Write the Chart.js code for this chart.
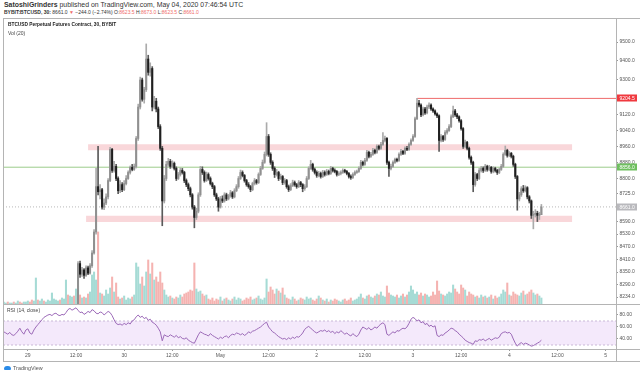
<!DOCTYPE html>
<html>
<head>
<meta charset="utf-8">
<title>BTCUSD 30 - BYBIT</title>
<script src="https://cdn.jsdelivr.net/npm/chart.js@4.4.1/dist/chart.umd.min.js"></script>
<style>
  html, body { margin: 0; padding: 0; background: #fff; }
  body { width: 640px; height: 376px; position: relative; overflow: hidden;
         font-family: "Liberation Sans", Arial, sans-serif; color: #131722; }
  .txt { position: absolute; white-space: nowrap; line-height: 1; }
  .red { color: #ef6c6a; }
  .line { position: absolute; background: #b4b4b4; }
  #mainBox { position: absolute; left: 3px; top: 18px; width: 637px; height: 286px; }
  #rsiBox { position: absolute; left: 3px; top: 304px; width: 637px; height: 58px; }
  .logo { position: absolute; left: 4px; top: 366px; width: 7px; height: 4px; background: #2a8be8; border-radius: 3px 3px 1px 1px; }
</style>
</head>
<body>

<div class="txt" style="left:4px; top:1.5px; font-size:6.9px; color:#333;"><b>SatoshiGrinders</b> published on TradingView.com, May 04, 2020 07:46:54 UTC</div>
<div class="txt" style="left:4px; top:9.5px; font-size:5px; color:#333;"><b>BYBIT:BTCUSD, 30:</b> 8661.0 <span class="red">&#9660;</span> &minus;244.0 (&minus;2.74%) O:<span class="red">8623.5</span> H:<span class="red">8673.0</span> L:<span class="red">8623.5</span> C:<span class="red">8661.0</span></div>

<div id="mainBox"><canvas id="mainChart"></canvas></div>
<div id="rsiBox"><canvas id="rsiChart"></canvas></div>

<!-- pane frame -->
<div class="line" style="left:3px; top:18px; width:637px; height:1px;"></div>
<div class="line" style="left:3px; top:18px; width:1px; height:344px;"></div>
<div class="line" style="left:3px; top:304px; width:637px; height:1px;"></div>
<div class="line" style="left:3px; top:349px; width:637px; height:1px;"></div>
<div class="line" style="left:3px; top:361px; width:637px; height:1px;"></div>
<div class="line" style="left:616px; top:18px; width:1px; height:344px;"></div>

<div class="txt" style="left:8px; top:22.5px; font-size:4.8px; font-weight:bold; color:#222;">BTCUSD Perpetual Futures Contract, 30, BYBIT</div>
<div class="txt" style="left:8px; top:30.5px; font-size:5px; color:#444;">Vol (20)</div>
<div class="txt" style="left:7px; top:308px; font-size:5px; color:#444;">RSI (14, close)</div>

<div class="logo"></div>
<div class="txt" style="left:13px; top:365.5px; font-size:5.4px; color:#555;">TradingView</div>

<script>
// 30-minute bars, time in hours counted from Apr 29 00:00 UTC
const startHour = -6;
const stepHours = 0.5;
const firstOpen = 7740;

// first 37 bars sit below the visible price range, only their volume/RSI show
const closes = [
  7745, 7760, 7752, 7768, 7775, 7770, 7781, 7790, 7785, 7779, 7792, 7800,
  7810, 7805, 7798, 7812, 7825, 7820, 7835, 7850, 7845, 7860, 7880, 7885,
  7900, 7920, 7950, 7985, 7970, 8010, 8030, 8070, 8060, 8120, 8150, 8140, 8180,
  8390, 8340, 8360, 8335, 8370, 8345, 8380, 8440,
  8540, 8760, 8735, 8745, 8660, 8680, 8710, 8790,
  8945, 8840, 8860, 8800, 8740, 8770, 8745, 8775,
  8800, 8830, 8855, 8845, 8860, 9000, 9160, 9300,
  9200, 9250, 9410, 9340, 9360, 9160, 9190, 9150,
  9060, 8950, 8690, 8800, 8870, 8885, 8860, 8875,
  8850, 8800, 8820, 8840, 8830, 8790, 8770, 8750,
  8720, 8660, 8610, 8640, 8720, 8845, 8830, 8790,
  8820, 8800, 8775, 8760, 8720, 8700, 8660, 8700,
  8690, 8720, 8700, 8715, 8730, 8710, 8740, 8760,
  8800, 8830, 8815, 8790, 8770, 8760, 8745, 8775,
  8790, 8780, 8820, 8850, 8880, 8920, 9010, 8920,
  8880, 8850, 8820, 8830, 8800, 8810, 8780, 8790,
  8760, 8745, 8765, 8780, 8770, 8760, 8780, 8770,
  8750, 8760, 8800, 8850, 8870, 8845, 8830, 8815,
  8825, 8810, 8830, 8820, 8835, 8825, 8850, 8840,
  8835, 8820, 8825, 8830, 8840, 8835, 8825, 8810,
  8805, 8820, 8830, 8835, 8850, 8880, 8870, 8890,
  8930, 8910, 8920, 8940, 8930, 8960, 8950, 8970,
  8990, 9000, 8880, 8850, 8860, 8880, 8895, 8890,
  8920, 8935, 8925, 8950, 8945, 8970, 8990, 9010,
  9100, 9180, 9170, 9120, 9150, 9130, 9160, 9170,
  9150, 9140, 9125, 9115, 8990, 9010, 8995, 9030,
  9040, 9060, 9110, 9140, 9120, 9110, 9090, 9050,
  8960, 8980, 8950, 8905, 8880, 8770, 8820, 8800,
  8840, 8850, 8840, 8860, 8845, 8855, 8835, 8850,
  8840, 8830, 8845, 8860, 8920, 8940, 8915, 8925,
  8910, 8870, 8810, 8700, 8720, 8750, 8740, 8755,
  8710, 8690, 8620, 8625, 8630, 8620, 8623.5, 8661
];

const highs = [
  7755, 7768, 7765, 7772, 7782, 7779, 7788, 7796, 7794, 7788, 7797, 7806,
  7815, 7814, 7808, 7818, 7832, 7830, 7840, 7858, 7856, 7866, 7888, 7893,
  7907, 7928, 7960, 7995, 7990, 8018, 8042, 8080, 8078, 8128, 8165, 8158, 8195,
  8400, 8402, 8372, 8366, 8380, 8378, 8390, 8452,
  8552, 8850, 8960, 8770, 8752, 8700, 8725, 8800,
  8955, 8950, 8885, 8870, 8808, 8790, 8780, 8790,
  8815, 8838, 8862, 8870, 8872, 9010, 9175, 9315,
  9310, 9262, 9490, 9430, 9390, 9370, 9215, 9205,
  9160, 9070, 8960, 8815, 8885, 8900, 8895, 8888,
  8882, 8858, 8830, 8852, 8850, 8836, 8798, 8778,
  8758, 8726, 8668, 8655, 8730, 8860, 8858, 8838,
  8832, 8828, 8808, 8782, 8766, 8728, 8708, 8712,
  8715, 8730, 8728, 8722, 8742, 8736, 8750, 8770,
  8810, 8842, 8838, 8820, 8796, 8780, 8766, 8782,
  8800, 8796, 8828, 8860, 8892, 8932, 9080, 9020,
  8928, 8888, 8858, 8845, 8836, 8822, 8815, 8800,
  8796, 8768, 8775, 8792, 8788, 8776, 8790, 8786,
  8775, 8770, 8810, 8858, 8890, 8876, 8852, 8838,
  8835, 8832, 8840, 8838, 8845, 8842, 8860, 8856,
  8848, 8840, 8834, 8838, 8848, 8846, 8840, 8830,
  8818, 8828, 8838, 8842, 8858, 8890, 8886, 8900,
  8940, 8936, 8930, 8950, 8946, 8968, 8966, 8980,
  9030, 9012, 9005, 8886, 8872, 8888, 8902, 8902,
  8928, 8945, 8940, 8958, 8960, 8978, 8998, 9020,
  9108, 9204.5, 9195, 9176, 9160, 9158, 9170, 9182,
  9176, 9156, 9146, 9130, 9120, 9020, 9016, 9040,
  9050, 9070, 9120, 9165, 9148, 9128, 9115, 9096,
  9055, 8992, 8986, 8956, 8912, 8886, 8830, 8826,
  8850, 8860, 8858, 8870, 8866, 8865, 8860, 8858,
  8856, 8846, 8852, 8870, 8928, 8962, 8946, 8934,
  8930, 8916, 8876, 8815, 8732, 8760, 8766, 8764,
  8760, 8716, 8695, 8640, 8648, 8640, 8635, 8673
];

const lows = [
  7735, 7742, 7748, 7750, 7764, 7765, 7766, 7778, 7780, 7774, 7776, 7788,
  7797, 7800, 7792, 7795, 7808, 7815, 7818, 7830, 7840, 7842, 7855, 7874,
  7880, 7895, 7915, 7945, 7962, 7965, 8005, 8025, 8050, 8055, 8110, 8132, 8135,
  8170, 8325, 8330, 8320, 8330, 8338, 8340, 8372,
  8435, 8530, 8720, 8700, 8650, 8648, 8672, 8700,
  8785, 8830, 8832, 8790, 8725, 8730, 8735, 8740,
  8768, 8795, 8822, 8838, 8840, 8852, 8990, 9150,
  9190, 9180, 9240, 9325, 9320, 9140, 9150, 9135,
  9050, 8940, 8570, 8680, 8790, 8860, 8850, 8852,
  8842, 8790, 8795, 8812, 8822, 8780, 8760, 8740,
  8710, 8650, 8560, 8600, 8632, 8712, 8820, 8782,
  8785, 8792, 8768, 8750, 8712, 8692, 8640, 8655,
  8682, 8684, 8692, 8695, 8708, 8702, 8705, 8735,
  8752, 8795, 8808, 8782, 8762, 8752, 8735, 8740,
  8768, 8772, 8775, 8815, 8845, 8875, 8912, 8910,
  8870, 8840, 8805, 8812, 8790, 8795, 8770, 8772,
  8752, 8736, 8740, 8760, 8762, 8752, 8755, 8760,
  8735, 8742, 8755, 8795, 8845, 8836, 8822, 8806,
  8808, 8802, 8805, 8812, 8815, 8818, 8820, 8832,
  8828, 8812, 8814, 8818, 8825, 8828, 8818, 8802,
  8796, 8800, 8815, 8825, 8830, 8845, 8862, 8865,
  8885, 8902, 8905, 8915, 8922, 8925, 8942, 8945,
  8965, 8982, 8870, 8810, 8842, 8855, 8875, 8882,
  8885, 8915, 8918, 8920, 8938, 8940, 8965, 8985,
  9005, 9095, 9160, 9110, 9115, 9122, 9125, 9152,
  9142, 9132, 9118, 9106, 8935, 8982, 8985, 8990,
  9022, 9035, 9055, 9105, 9112, 9100, 9082, 9042,
  8950, 8952, 8942, 8896, 8870, 8735, 8762, 8790,
  8795, 8832, 8830, 8835, 8836, 8838, 8826, 8828,
  8832, 8820, 8824, 8840, 8855, 8915, 8906, 8908,
  8902, 8860, 8800, 8645, 8690, 8712, 8732, 8734,
  8700, 8680, 8605, 8555, 8612, 8590, 8600, 8623.5
];

const volumes = [
  2, 1, 2, 1, 1, 2, 1, 3, 2, 1, 2, 2, 3, 2, 4, 3,
  26, 4, 3, 5, 3, 2, 4, 3, 11, 5, 4, 3, 4, 6, 5, 24,
  9, 8, 7, 8, 15,
  18, 9, 6, 7, 6, 10, 12, 29, 32, 24, 72, 11, 10,
  8, 14, 10, 16, 27, 12, 21,
  7, 5, 6, 8, 4, 6, 5, 7, 9, 41,
  37, 20, 27, 18, 32, 44, 30, 41, 24, 27, 22, 32, 21,
  14, 9, 7, 8, 6, 5, 7, 6, 9, 7,
  10, 11, 12, 14, 13, 41,
  15, 12, 13, 10, 8, 9,
  5, 4, 6, 3, 5, 4, 7, 3, 5, 6, 4, 3, 5, 7, 4, 6, 5, 3, 4, 6, 5, 7, 4, 5, 6, 8, 5, 4, 6,
  25, 12, 17, 14, 10, 15, 13, 11, 16, 9,
  6, 5, 4, 7, 5, 3, 4, 6, 5, 4, 7, 5, 6, 4, 3, 5, 8, 6,
  4, 3, 5, 2, 4, 3, 5, 4, 3, 2, 4, 5, 3, 4, 6, 3, 4, 5,
  7, 10, 6, 5, 8, 9, 7, 6, 8, 10, 9, 12, 8, 7, 18,
  11, 9, 8, 7, 9, 6, 8, 10, 7,
  9, 12, 18, 14, 10, 12,
  9, 11, 8, 10, 9, 7, 8, 12, 9, 23,
  13, 10, 9, 8, 10, 12, 11, 19, 15, 12, 10, 19, 16, 14,
  8, 12, 10, 9, 7, 8, 6, 9, 7, 8, 6, 7, 9, 5, 8, 6, 7,
  10, 14, 12, 21,
  9, 8, 12, 10, 9, 8, 11, 13, 9, 10,
  12, 14, 11, 9, 10, 8, 6
];

const rsiValues = [
  52, 50, 48, 51, 47, 46, 49, 53, 58, 52, 48, 55, 57, 50, 48,
  55, 60, 64, 68, 72, 76, 78, 80, 81, 79, 82, 83, 80, 79, 81, 80, 84,
  89, 91, 88, 90, 92,
  88, 84, 85, 81, 83, 86, 84, 89, 87, 83, 82, 85, 84, 80, 83, 86, 84,
  79, 72, 66, 64, 65, 63, 66, 64, 67, 65, 70, 72, 77, 80,
  76, 78, 74, 76, 71, 73, 68, 66, 63, 58, 52, 37,
  47, 45, 44, 47, 45, 43, 46, 42, 44, 41, 40, 42, 38, 36, 34, 33,
  40, 47, 52, 50, 48, 47, 45, 49, 46, 44, 42, 40, 43, 41, 44, 45, 42,
  46, 48, 47, 50, 49, 47, 49, 46, 48, 52, 50, 53,
  54, 56, 58, 60, 63, 66, 68, 60, 56, 52, 50, 47,
  44, 42, 40, 41, 39, 42, 40, 43, 41, 44, 43, 46, 50,
  56, 59, 61, 58, 55, 52, 50, 52, 54, 53,
  55, 52, 54, 51, 53, 49, 52, 50, 54, 51, 48, 50, 47, 45, 49, 46, 44, 48,
  55, 60, 58, 56, 59, 55, 57, 60, 58, 62, 65, 67, 64, 48, 46, 49,
  52, 50, 54, 53, 56, 58, 57, 60, 66, 73, 76, 74, 70, 72, 67, 69,
  64, 66, 61, 63, 60, 62, 46, 44, 47, 46, 50, 52, 55, 58, 57, 54,
  52, 48, 45, 42, 38, 36, 34, 33, 31,
  37, 36, 39, 38, 40, 37, 39, 41, 38, 40, 42, 41, 43,
  49, 51, 52, 50, 51, 48, 40, 33, 28,
  32, 34, 31, 33, 32, 30, 28, 29, 31, 33, 35, 38
];

// levels drawn on the chart
const lastPrice = 8661.0;
const greenLevel = 8856.0;
const resistanceLevel = 9204.5;
const resistanceFromHour = 97;
const zoneTops = [8971, 8618];
const zoneBottoms = [8941, 8588];
const zoneFromHours = [15, 14.5];
const zoneToHours = [135.7, 135.7];

// axis ticks
const priceTicks = [9500, 9400, 9300, 9120, 9040, 8960, 8880, 8800, 8725, 8590, 8530, 8470, 8410, 8350, 8290, 8234];
const rsiTicks = [40, 60, 80];
const timeTicks = [0, 12, 24, 36, 48, 60, 72, 84, 96, 108, 120, 132, 144];
const timeLabels = ["29", "12:00", "30", "12:00", "May", "12:00", "2", "12:00", "3", "12:00", "4", "12:00", "5"];

// ------------------------------------------------------------------
const xMin = -6.2;
const xMax = 146.6;
const FONT = '"Liberation Sans", Arial, sans-serif';

Chart.defaults.font.family = FONT;
Chart.defaults.animation = false;

const hourAt = i => startHour + i * stepHours;
const opens = closes.map((c, i) => (i === 0 ? firstOpen : closes[i - 1]));
const isUp = closes.map((c, i) => c >= opens[i]);

const bodyData = closes.map((c, i) => ({ x: hourAt(i), y: [opens[i], c] }));
const wickData = closes.map((c, i) => ({ x: hourAt(i), y: [lows[i], highs[i]] }));
const volumeData = volumes.map((v, i) => ({ x: hourAt(i), y: v }));
const rsiData = rsiValues.map((v, i) => ({ x: hourAt(i), y: v }));

const flat = (y, from, to) => [{ x: from, y: y }, { x: to, y: y }];

const zoneSets = [];
zoneTops.forEach((top, i) => {
  zoneSets.push({
    type: "line", data: flat(top, zoneFromHours[i], zoneToHours[i]),
    borderWidth: 0, pointRadius: 0, fill: false, order: 6
  });
  zoneSets.push({
    type: "line", data: flat(zoneBottoms[i], zoneFromHours[i], zoneToHours[i]),
    borderWidth: 0, pointRadius: 0, fill: "-1", backgroundColor: "#f9d7da", order: 6
  });
});

function fixY(width) {
  return s => { s.width = width; s.paddingTop = 0; s.paddingBottom = 0; };
}

// coloured price labels on the right axis
const axisLabels = {
  id: "axisLabels",
  afterDraw(chart) {
    const { ctx, chartArea, scales } = chart;
    const marks = [
      { v: resistanceLevel, bg: "#f0393f", fg: "#fff" },
      { v: greenLevel, bg: "#6fbf5f", fg: "#fff" },
      { v: lastPrice, bg: "#b9b9bd", fg: "#fff" }
    ];
    ctx.save();
    ctx.font = "5px " + FONT;
    ctx.textBaseline = "middle";
    marks.forEach(m => {
      const py = Math.round(scales.y.getPixelForValue(m.v));
      ctx.fillStyle = m.bg;
      ctx.fillRect(chartArea.right + 1, py - 3.5, 20, 7);
      ctx.fillStyle = m.fg;
      ctx.fillText(m.v.toFixed(1), chartArea.right + 3.5, py + 0.3);
    });
    ctx.restore();
  }
};

new Chart(document.getElementById("mainChart"), {
  type: "bar",
  data: {
    datasets: [
      {
        type: "bar", data: bodyData, grouped: false, barThickness: 1.4, minBarLength: 1,
        backgroundColor: isUp.map(u => (u ? "#909090" : "#1f1f1f")), order: 0
      },
      {
        type: "bar", data: wickData, grouped: false, barThickness: 1,
        backgroundColor: isUp.map(u => (u ? "#ababab" : "#5a5a5a")), order: 1
      },
      {
        type: "line", data: flat(lastPrice, xMin, xMax), borderColor: "#b8b8b8",
        borderWidth: 1, borderDash: [1, 2], pointRadius: 0, order: 3
      },
      {
        type: "line", data: flat(greenLevel, xMin, xMax), borderColor: "#9ccc8a",
        borderWidth: 1, pointRadius: 0, order: 3
      },
      {
        type: "line", data: flat(resistanceLevel, resistanceFromHour, xMax), borderColor: "#ef6b6b",
        borderWidth: 1, pointRadius: 0, order: 3
      },
      ...zoneSets,
      {
        type: "bar", yAxisID: "vol", data: volumeData, grouped: false, barThickness: 1.4,
        backgroundColor: isUp.map(u => (u ? "#a6dbd5" : "#f5b3b1")), order: 8
      }
    ]
  },
  options: {
    responsive: true,
    maintainAspectRatio: false,
    events: [],
    layout: { padding: 0 },
    plugins: { legend: { display: false }, tooltip: { enabled: false } },
    scales: {
      x: { type: "linear", display: false, min: xMin, max: xMax, offset: false },
      y: {
        type: "logarithmic", position: "right", min: 8202, max: 9629,
        afterBuildTicks: s => { s.ticks = priceTicks.map(v => ({ value: v })); },
        afterFit: fixY(24),
        ticks: {
          autoSkip: false, padding: 1.5, color: "#555",
          font: { size: 5 },
          callback: v => Number(v).toFixed(1)
        },
        grid: { drawOnChartArea: false, tickLength: 2, color: "#999" },
        border: { display: false }
      },
      vol: { type: "linear", display: false, min: 0, max: Math.max(...volumes) * 3.97 }
    }
  },
  plugins: [axisLabels]
});

new Chart(document.getElementById("rsiChart"), {
  type: "line",
  data: {
    datasets: [
      { data: rsiData, borderColor: "#9c6ab8", borderWidth: 1, pointRadius: 0, order: 0 },
      {
        data: flat(70, xMin, xMax), borderColor: "#c9b8d6", borderWidth: 1,
        borderDash: [2, 2], pointRadius: 0, fill: false, order: 2
      },
      {
        data: flat(30, xMin, xMax), borderColor: "#c9b8d6", borderWidth: 1,
        borderDash: [2, 2], pointRadius: 0, fill: "-1", backgroundColor: "#f4e9fb", order: 2
      }
    ]
  },
  options: {
    responsive: true,
    maintainAspectRatio: false,
    events: [],
    layout: { padding: 0 },
    plugins: { legend: { display: false }, tooltip: { enabled: false } },
    scales: {
      x: {
        type: "linear", min: xMin, max: xMax, position: "bottom",
        afterBuildTicks: s => { s.ticks = timeTicks.map(v => ({ value: v })); },
        afterFit: s => { s.height = 13; s.paddingLeft = 0; s.paddingRight = 0; },
        ticks: {
          autoSkip: false, maxRotation: 0, padding: 1.5, color: "#555",
          font: { size: 5 },
          callback: v => timeLabels[timeTicks.indexOf(v)]
        },
        grid: { drawOnChartArea: false, tickLength: 2, color: "#999" },
        border: { display: false }
      },
      y: {
        type: "linear", position: "right", min: 23.33, max: 98.33,
        afterBuildTicks: s => { s.ticks = rsiTicks.map(v => ({ value: v })); },
        afterFit: fixY(24),
        ticks: {
          autoSkip: false, padding: 1.5, color: "#555",
          font: { size: 5 },
          callback: v => Number(v).toFixed(2)
        },
        grid: { drawOnChartArea: false, tickLength: 2, color: "#999" },
        border: { display: false }
      }
    }
  }
});
</script>
</body>
</html>
